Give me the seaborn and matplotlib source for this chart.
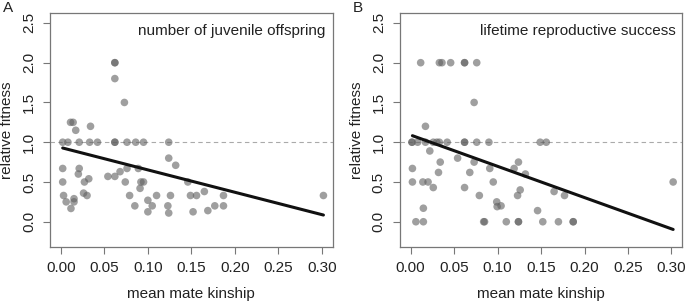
import numpy as np
import pandas as pd
import seaborn as sns
from matplotlib import pyplot as plt

# Panel A: number of juvenile offspring
kin_a = [0.002, 0.008, 0.021, 0.033, 0.042, 0.062, 0.062, 0.076, 0.086, 0.095, 0.124,
         0.062, 0.062, 0.062, 0.073, 0.011, 0.014, 0.017, 0.034,
         0.002, 0.002, 0.003, 0.006, 0.0115, 0.015, 0.015, 0.020, 0.021, 0.026, 0.027,
         0.030, 0.032, 0.054, 0.062, 0.068, 0.074, 0.076, 0.079, 0.085, 0.089, 0.091,
         0.092, 0.095, 0.100, 0.100, 0.105, 0.110, 0.123, 0.124, 0.124, 0.126, 0.132,
         0.146, 0.149, 0.152, 0.156, 0.165, 0.169, 0.177, 0.187, 0.187, 0.302]
fit_a = [1.0, 1.0, 1.0, 1.0, 1.0, 1.0, 1.0, 1.0, 1.0, 1.0, 1.0,
         2.0, 2.0, 1.8, 1.5, 1.25, 1.25, 1.15, 1.2,
         0.67, 0.5, 0.33, 0.25, 0.167, 0.29, 0.25, 0.60, 0.67, 0.36, 0.5,
         0.33, 0.54, 0.57, 0.57, 0.63, 0.5, 0.67, 0.33, 0.2, 0.67, 0.42,
         0.5, 0.5, 0.27, 0.125, 0.2, 0.33, 0.2, 0.11, 0.8, 0.33, 0.71,
         0.5, 0.33, 0.125, 0.33, 0.38, 0.14, 0.2, 0.33, 0.2, 0.33]

# Panel B: lifetime reproductive success
kin_b = [0.0115, 0.033, 0.036, 0.046, 0.062, 0.062, 0.076, 0.073, 0.017,
         0.0015, 0.0015, 0.008, 0.017, 0.026, 0.030, 0.033, 0.042, 0.062, 0.062,
         0.076, 0.090, 0.149, 0.156, 0.022,
         0.002, 0.002, 0.006, 0.014, 0.0146, 0.0146, 0.020, 0.026, 0.032, 0.034,
         0.054, 0.062, 0.068, 0.073, 0.079, 0.084, 0.085, 0.091, 0.095, 0.099,
         0.0995, 0.104, 0.110, 0.119, 0.123, 0.124, 0.124, 0.124, 0.126, 0.132,
         0.146, 0.152, 0.165, 0.170, 0.177, 0.187, 0.187, 0.302]
fit_b = [2.0, 2.0, 2.0, 2.0, 2.0, 2.0, 2.0, 1.5, 1.2,
         1.0, 1.0, 1.0, 1.0, 1.0, 1.0, 1.0, 1.0, 1.0, 1.0,
         1.0, 1.0, 1.0, 1.0, 0.89,
         0.67, 0.5, 0.0, 0.5, 0.17, 0.0, 0.5, 0.43, 0.62, 0.75,
         0.80, 0.43, 0.62, 0.75, 0.33, 0.0, 0.0, 0.67, 0.5, 0.25,
         0.19, 0.2, 0.0, 0.67, 0.33, 0.75, 0.0, 0.0, 0.4, 0.6,
         0.14, 0.0, 0.38, 0.0, 0.33, 0.0, 0.0, 0.5]

# Regression lines (intercept, slope) and x range
line_a = (0.933, -2.81)
line_b = (1.09, -3.93)
line_x = [0.002, 0.302]

panels = [('A', 'number of juvenile offspring', kin_a, fit_a, line_a),
          ('B', 'lifetime reproductive success', kin_b, fit_b, line_b)]

sns.set_style('ticks')
plt.rcParams['font.family'] = ['Liberation Sans', 'DejaVu Sans']

fig = plt.figure(figsize=(6.86, 3.02), dpi=100)
lefts = [0.0729, 0.5827]
txt = '#222222'
fs = 11

for (letter, title, kx, fy, line), left in zip(panels, lefts):
    ax = fig.add_axes([left, 0.182, 0.412, 0.775])
    df = pd.DataFrame({'kinship': kx, 'fitness': fy})
    ax.axhline(1.0, color='#aaaaaa', lw=0.8, ls=(0, (4, 3)), zorder=1)
    sns.scatterplot(data=df, x='kinship', y='fitness', ax=ax, color='#606060',
                    alpha=0.6, s=30, edgecolor='none', zorder=2)
    lx = np.array(line_x)
    sns.lineplot(x=lx, y=line[0] + line[1] * lx, ax=ax, color='#111111', lw=2.2, zorder=3)
    ax.set_xlim(-0.0126, 0.3126)
    ax.set_ylim(-0.318, 2.625)
    ax.set_xticks(np.arange(0, 0.31, 0.05))
    ax.set_xticklabels(['0.00', '0.05', '0.10', '0.15', '0.20', '0.25', '0.30'])
    ax.set_yticks(np.arange(0, 2.6, 0.5))
    ax.set_yticklabels(['0.0', '0.5', '1.0', '1.5', '2.0', '2.5'], rotation=90, va='center')
    ax.tick_params(length=5, width=0.8, color='#777777', labelcolor=txt, labelsize=fs, pad=5)
    for sp in ax.spines.values():
        sp.set_visible(True)
        sp.set_color('#777777')
        sp.set_linewidth(0.9)
    ax.set_xlabel('mean mate kinship', color=txt, fontsize=fs, labelpad=9)
    ax.set_ylabel('relative fitness', color=txt, fontsize=fs, labelpad=6)
    ax.text(0.975, 0.925, title, transform=ax.transAxes, ha='right', va='center',
            color=txt, fontsize=fs)
    fig.text(left - 0.068, 0.975, letter, ha='left', va='center', color=txt, fontsize=fs)

fig.savefig('out.png', dpi=100)
